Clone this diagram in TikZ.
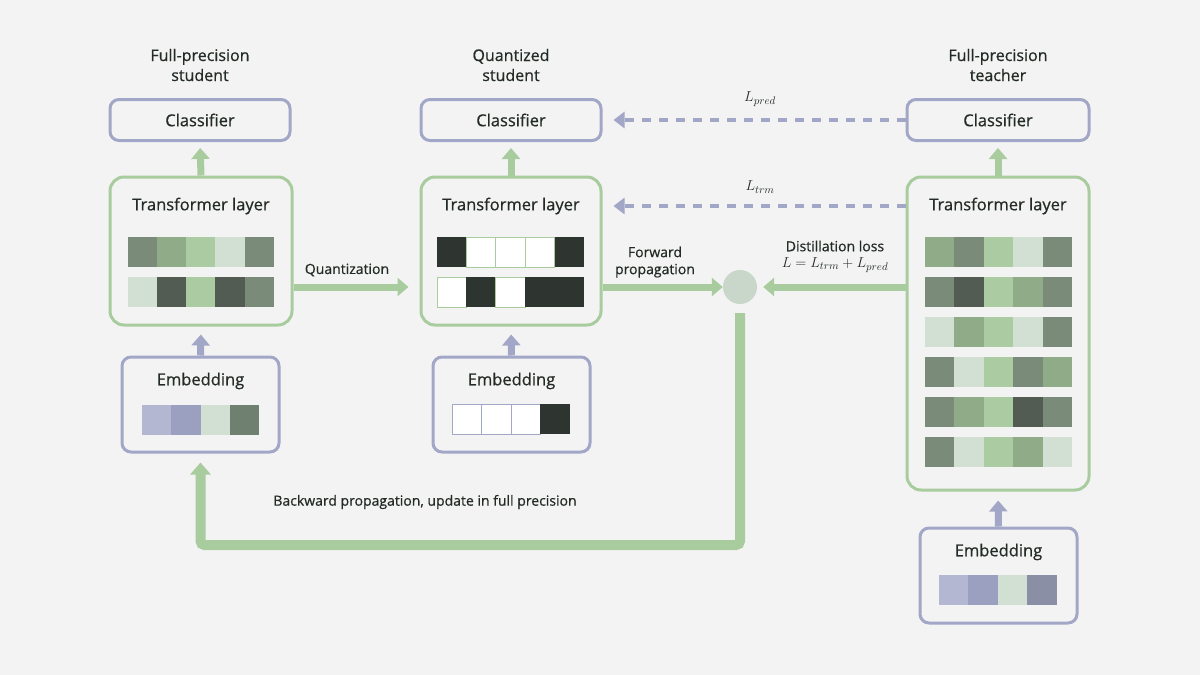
\documentclass[tikz,border=0pt]{standalone}
\usepackage{fontspec}
\setmainfont{Open Sans}[FakeBold=0.6]
\usetikzlibrary{arrows.meta}
\definecolor{bg}{HTML}{F3F3F3}
\definecolor{grn}{HTML}{A9CC9F}
\definecolor{pur}{HTML}{A3A7C7}
\definecolor{txt}{HTML}{232B25}
\definecolor{kM}{HTML}{7A8B7A}
\definecolor{kD}{HTML}{525C53}
\definecolor{kL}{HTML}{D2E0D4}
\definecolor{kG}{HTML}{8FAB88}
\definecolor{kN}{HTML}{ABCCA2}
\definecolor{kQ}{HTML}{2E3530}
\definecolor{kPL}{HTML}{B3B7D2}
\definecolor{kPM}{HTML}{9B9FC0}
\definecolor{kPD}{HTML}{8A8FA5}
\definecolor{kGE}{HTML}{6F7F70}
\definecolor{kC}{HTML}{C9D7CB}
\newcommand\cellrow[4]{% x0, y0, width, colors
  \foreach \c [count=\i from 0] in {#4} {\fill[fill=\c] ({#1+\i*#3},#2) rectangle ++(#3,30);}}
\newcommand\qrow[3]{% x0, y0, pattern (1 dark 0 white)
  \foreach \c [count=\i from 0] in {#3} {%
    \ifnum\c=1 \fill[fill=kQ] ({#1+\i*29.4},#2) rectangle ++(29.4,30);
    \else \filldraw[fill=white, draw=grn, line width=0.7pt] ({#1+\i*29.4},#2) rectangle ++(29.4,30);\fi}}
\begin{document}
\begin{tikzpicture}[x=1pt,y=-1pt,
  box/.style={draw, line width=3pt, rounded corners=9pt, inner sep=0pt},
  pbox/.style={box, draw=pur},
  gbox/.style={box, draw=grn, rounded corners=14pt},
  ttl/.style={font=\fontsize{16.5}{20}\selectfont, text=txt, inner sep=0pt},
  hdr/.style={font=\fontsize{16}{20}\selectfont, text=txt, align=center, inner sep=0pt},
  sm/.style={font=\fontsize{14}{17}\selectfont, text=txt, align=center, inner sep=0pt},
  garrow/.style={draw=grn, line width=7pt, -{Triangle[width=18pt,length=11pt]}},
  parrow/.style={draw=pur, line width=7pt, -{Triangle[width=18pt,length=11pt]}},
  darrow/.style={draw=pur, line width=4.5pt, dash pattern=on 9pt off 8pt, -{Triangle[width=16pt,length=11pt]}}]
\useasboundingbox (0,0) rectangle (1200,675);
\fill[bg] (0,0) rectangle (1200,675);

% headers
\node[hdr] (h1) at (200,65) {Full-precision\\student};
\node[hdr] (h2) at (511,65) {Quantized\\student};
\node[hdr] (h3) at (998,65) {Full-precision\\teacher};

% classifiers
\node[pbox, minimum width=180pt, minimum height=41pt] (cls1) at (200,120) {};
\node[pbox, minimum width=180pt, minimum height=41pt] (cls2) at (511,120) {};
\node[pbox, minimum width=182pt, minimum height=41pt] (cls3) at (998,120) {};
\node[ttl] (ct1) at (200,120) {Classifier};
\node[ttl] (ct2) at (511,120) {Classifier};
\node[ttl] (ct3) at (998,120) {Classifier};

% transformers
\node[gbox, minimum width=182pt, minimum height=148pt] (t1) at (201,251) {};
\node[gbox, minimum width=180pt, minimum height=148pt] (t2) at (511,251) {};
\node[gbox, minimum width=182pt, minimum height=313pt] (t3) at (998,333.5) {};
\node[ttl] (tt1) at (201,206) {Transformer layer};
\node[ttl] (tt2) at (511,206) {Transformer layer};
\node[ttl] (tt3) at (998,206) {Transformer layer};

% embeddings
\node[pbox, minimum width=157pt, minimum height=95pt] (e1) at (200.5,404.5) {};
\node[pbox, minimum width=157pt, minimum height=95pt] (e2) at (511.5,404.5) {};
\node[pbox, minimum width=157pt, minimum height=95pt] (e3) at (998.5,575.5) {};
\node[ttl] (et1) at (200.5,381) {Embedding};
\node[ttl] (et2) at (511.5,381) {Embedding};
\node[ttl] (et3) at (998.5,552) {Embedding};

% cells: full-precision student
\cellrow{127.5}{237}{29.3}{kM,kG,kN,kL,kM}
\cellrow{127.5}{277}{29.3}{kL,kD,kN,kD,kM}
% quantized student
\qrow{437}{237}{1,0,0,0,1}
\qrow{437}{277}{0,1,0,1,1}
% teacher
\cellrow{925}{237}{29.4}{kG,kM,kN,kL,kM}
\cellrow{925}{277}{29.4}{kM,kD,kN,kG,kM}
\cellrow{925}{317}{29.4}{kL,kG,kN,kL,kM}
\cellrow{925}{357}{29.4}{kM,kL,kN,kM,kG}
\cellrow{925}{397}{29.4}{kM,kG,kN,kD,kM}
\cellrow{925}{437}{29.4}{kM,kL,kN,kG,kL}
% embedding cells
\cellrow{142}{405}{29.3}{kPL,kPM,kL,kGE}
\foreach \i in {0,1,2} {\filldraw[fill=white, draw=pur, line width=0.6pt] ({452+\i*29.4},404) rectangle ++(29.4,30);}
\fill[fill=kQ] (540.2,404) rectangle ++(29.4,30);
\cellrow{939}{575}{29.4}{kPL,kPM,kL,kPD}

% loss node
\node[circle, fill=kC, minimum size=34pt, inner sep=0pt] (loss) at (740,287) {};

% vertical arrows
\draw[garrow, shorten >=6pt] (t1.north) -- (cls1.south);
\draw[garrow, shorten >=6pt] (t2.north) -- (cls2.south);
\draw[garrow, shorten >=6pt] (t3.north) -- (cls3.south);
\draw[parrow, shorten >=8pt] (e1.north) -- (t1.south);
\draw[parrow, shorten >=8pt] (e2.north) -- (t2.south);
\draw[parrow, shorten >=9pt] (e3.north) -- (t3.south);

% horizontal arrows
\draw[garrow, shorten >=11pt] (t1.east |- loss) -- (t2.west |- loss);
\draw[garrow] (t2.east |- loss) -- (loss.west);
\draw[garrow, shorten >=6pt] (t3.west |- loss) -- (loss.east);

% dashed loss arrows
\draw[darrow, shorten >=11pt] (cls3.west) -- (cls2.east);
\draw[darrow, shorten >=11pt] (t3.west |- tt2) -- (t2.east |- tt2);

% backward path
\coordinate (bot) at (0,545);
\draw[draw=grn, line width=10pt, rounded corners=4pt, shorten <=9pt, shorten >=9pt,
  -{Triangle[width=20pt,length=12pt]}]
  (loss.south) -- (loss |- bot) -- (e1 |- bot) -- (e1.south);

% labels
\node[sm] (lq) at (347,270) {Quantization};
\node[sm] (lf) at (655,262) {Forward\\propagation};
\node[sm] (ld) at (835,246) {Distillation loss};
\node[sm, font=\fontsize{15}{17}\selectfont] (lde) at (835,265) {$L = L_{trm} + L_{pred}$};
\node[sm, font=\fontsize{15}{17}\selectfont] (lp) at (760,99) {$L_{pred}$};
\node[sm, font=\fontsize{15}{17}\selectfont] (lt) at (760,187) {$L_{trm}$};
\node[sm] (lb) at (425,502) {Backward propagation, update in full precision};
\end{tikzpicture}
\end{document}
